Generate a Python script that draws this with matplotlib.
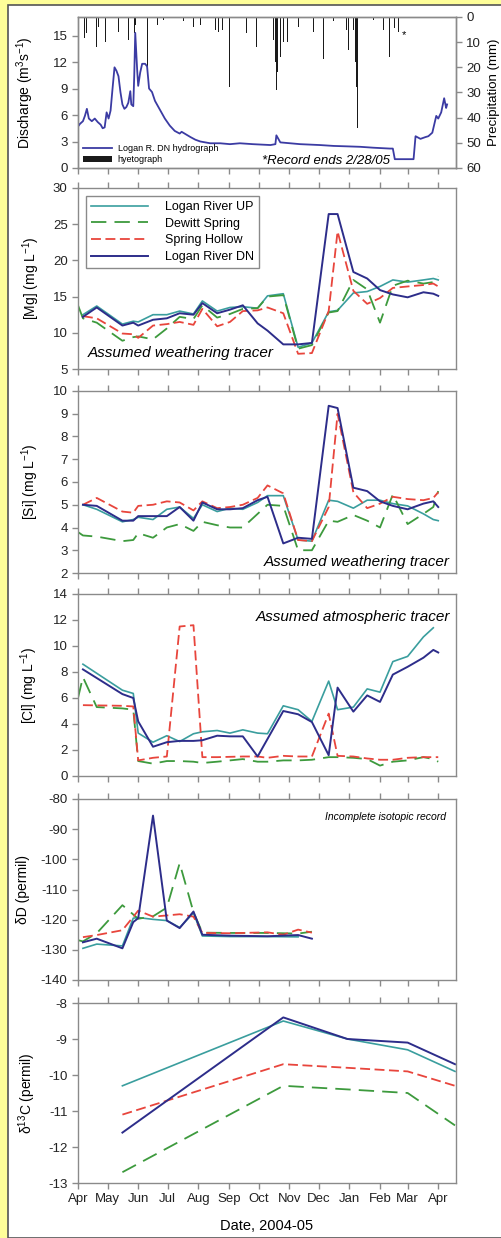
import numpy as np
import pandas as pd
import matplotlib
matplotlib.use('Agg')
import matplotlib.pyplot as plt
import matplotlib.dates as mdates
from matplotlib.patches import Rectangle

plt.rcParams['font.family'] = ['Liberation Sans', 'DejaVu Sans']
plt.rcParams['mathtext.default'] = 'regular'
plt.rcParams['axes.unicode_minus'] = False

nan = np.nan
START = pd.Timestamp('2004-04-01')

# ---- hydrograph (days since 2004-04-01, discharge m3/s) ----
q_days = [0, 2, 5, 7, 9, 11, 14, 17, 20, 23, 25, 27, 29, 31, 33, 35, 37, 39, 41,
          43, 45, 47, 49, 51, 53, 54, 56, 57, 58, 60, 61, 63, 65, 68, 70, 72, 75,
          78, 83, 88, 93, 98, 103, 105, 108, 114, 119, 124, 134, 144, 154, 164,
          177, 195, 200, 201, 205, 215, 225, 245, 259, 273, 286, 299, 316, 319,
          321, 340, 342, 347, 352, 355, 359, 363, 365, 368, 371, 373, 374]
q_vals = [4.7, 5.0, 5.3, 5.9, 6.7, 5.6, 5.3, 5.6, 5.2, 4.9, 4.5, 4.6, 6.3, 5.6, 6.5,
          9.0, 11.4, 11.0, 10.4, 8.6, 7.2, 6.7, 6.9, 7.4, 8.7, 7.2, 7.0, 10.5, 15.3,
          11.0, 9.3, 10.8, 11.8, 11.8, 11.5, 9.0, 8.6, 7.6, 6.6, 5.6, 4.8, 4.2, 3.9,
          4.1, 3.9, 3.5, 3.2, 3.0, 2.8, 2.8, 2.7, 2.8, 2.7, 2.6, 2.7, 3.7, 2.9, 2.8,
          2.7, 2.6, 2.5, 2.45, 2.4, 2.3, 2.2, 2.2, 1.0, 1.0, 3.6, 3.3, 3.5, 3.6, 4.0,
          5.9, 5.6, 6.3, 7.9, 6.8, 7.2]

# ---- hyetograph (days, precipitation mm) ----
p_days = [7, 9, 19, 21, 28, 41, 51, 57, 58, 70, 81, 87, 107, 117, 124, 139, 142,
          146, 154, 171, 181, 198, 200, 201, 202, 205, 208, 212, 223, 239, 249,
          259, 272, 274, 279, 281, 282, 283, 299, 310, 316, 321, 325]
p_vals = [8.5, 6.5, 12, 4, 10, 6, 9, 6.5, 3, 22, 3, 1, 1.5, 4, 3, 5, 6, 5, 28,
          6.5, 12, 9, 18, 29, 22, 16, 10, 10, 4, 6, 16.5, 1.5, 5, 13, 5, 18, 28,
          44, 1, 5, 16, 4.5, 6]

# ---- water chemistry sampling days ----
chem_days = [0, 5, 19, 45, 56, 61, 76, 90, 103, 117, 126, 141, 154, 167, 182, 192,
             208, 223, 237, 254, 263, 279, 293, 306, 319, 334, 350, 360, 365]

mg_up = [nan, 12.5, 13.7, 11.2, 11.6, 11.5, 12.5, 12.5, 13.0, 12.6, 14.4, 13.0, 13.5,
         13.6, 13.4, 15.1, 15.4, 8.0, 8.6, 12.9, 13.1, 15.5, 15.7, 16.4, 17.3, 17.0,
         17.3, 17.5, 17.3]
mg_ds = [13.8, 12.0, 11.4, 8.9, 9.4, 9.5, 9.1, 10.6, 12.2, 11.9, 13.8, 12.1, 12.6,
         13.3, 13.4, 15.0, 15.2, 7.8, 8.3, 12.8, 13.0, 17.3, 16.0, 11.4, 16.5, 17.2,
         16.8, 17.0, 17.8]
mg_sh = [nan, 12.3, 12.0, 9.9, 9.8, 9.3, 11.0, 11.2, 11.5, 11.1, 13.3, 10.9, 11.5,
         13.0, 13.1, 13.5, 12.7, 7.1, 7.2, 13.0, 24.0, 15.8, 14.0, 14.8, 16.2, 16.4,
         16.6, 16.8, 16.4]
mg_dn = [nan, 12.2, 13.5, 11.0, 11.4, 11.0, 11.8, 12.0, 12.7, 12.5, 14.1, 12.7, 13.2,
         13.8, 11.3, 10.3, 8.4, 8.4, 8.6, 26.4, 26.4, 18.4, 17.5, 15.9, 15.3, 14.9,
         15.6, 15.4, 15.1]

si_up = [nan, 5.0, 4.8, 4.25, 4.35, 4.45, 4.35, 4.8, 4.9, 4.4, 5.0, 4.7, 4.85, 4.8,
         5.1, 5.4, 5.4, 3.45, 3.4, 5.2, 5.15, 4.85, 5.2, 5.2, 5.05, 4.95, 4.6, 4.35, 4.3]
si_ds = [3.8, 3.65, 3.6, 3.4, 3.45, 3.75, 3.55, 4.0, 4.15, 3.85, 4.25, 4.1, 4.0, 4.0,
         4.6, 5.0, 4.95, 3.0, 3.0, 4.3, 4.25, 4.55, 4.3, 4.0, 5.45, 4.15, 4.6, 4.9, 5.6]
si_sh = [nan, 5.0, 5.3, 4.7, 4.65, 4.95, 5.0, 5.15, 5.1, 4.75, 5.15, 4.85, 4.9, 5.0,
         5.3, 5.85, 5.5, 3.45, 3.4, 4.9, 9.0, 5.55, 4.85, 5.05, 5.35, 5.25, 5.2, 5.3, 5.55]
si_dn = [nan, 5.0, 4.95, 4.3, 4.3, 4.5, 4.5, 4.5, 4.9, 4.3, 5.1, 4.8, 4.8, 4.85, 5.2,
         5.35, 3.3, 3.55, 3.5, 9.35, 9.25, 5.75, 5.6, 5.15, 4.95, 4.8, 5.05, 5.15, 4.9]

cl_up = [nan, 8.6, nan, 6.6, 6.35, 3.3, 2.6, 3.1, 2.65, 3.25, 3.4, 3.5, 3.3, 3.55,
         3.3, 3.25, 5.4, 5.1, 4.2, 7.3, 5.1, 5.3, 6.7, 6.45, 8.8, 9.2, 10.7, 11.4, nan]
cl_ds = [6.0, 7.6, 5.3, 5.2, 5.1, 1.15, 0.95, 1.15, 1.15, 1.1, 1.0, 1.1, 1.2, 1.3,
         1.1, 1.1, 1.2, 1.2, 1.25, 1.45, 1.45, 1.4, 1.3, 0.8, 1.1, 1.2, 1.45, 1.3, 1.1]
cl_sh = [nan, 5.45, nan, 5.4, 5.35, 1.2, 1.4, 1.5, 11.5, 11.6, 1.45, 1.45, nan, 1.5,
         1.5, 1.4, 1.55, 1.5, 1.5, 4.8, 1.55, 1.5, 1.35, 1.25, 1.25, 1.4, 1.45, 1.45, 1.45]
cl_dn = [nan, 8.2, nan, 6.3, 6.0, 4.2, 2.25, 2.6, 2.7, 2.7, 2.75, 3.1, 3.05, 3.05,
         1.5, nan, 5.0, 4.75, 4.15, 1.6, 6.8, 4.95, 6.2, 5.7, 7.8, 8.4, 9.1, 9.7, 9.5]

# ---- isotopes ----
dd_days = [0, 5, 19, 45, 56, 61, 76, 90, 103, 117, 126, 154, 192, 208, 223, 237]
dd_up = [nan, -129.5, -128.1, -128.7, -119.5, -119.3, -119.9, -120.3, -122.6, -117.8,
         -125.4, -125.6, -125.6, nan, -125.7, nan]
dd_ds = [-126.8, -127.2, -124.5, -115.2, nan, -119.7, -118.9, -116.0, -101.3, -117.5,
         -124.3, -124.4, -124.4, nan, -124.6, -124.0]
dd_sh = [nan, -125.8, -125.1, -123.5, nan, -117.0, -119.0, -118.6, -118.2, -119.0,
         -124.4, -124.5, -124.2, -125.0, -123.3, -124.3]
dd_dn = [nan, -127.5, -126.3, -129.5, -120.8, -119.5, -85.5, -120.3, -122.8, -117.3,
         -125.0, -125.3, -125.5, nan, -125.1, -126.3]

c13_days = [45, 208, 273, 334, 382]
c13_up = [-10.3, -8.5, -9.0, -9.3, -9.9]
c13_ds = [-12.7, -10.3, -10.4, -10.5, -11.4]
c13_sh = [-11.1, -9.7, -9.8, -9.9, -10.3]
c13_dn = [-11.6, -8.4, -9.0, -9.1, -9.7]

sites = ['Logan River UP', 'Dewitt Spring', 'Spring Hollow', 'Logan River DN']
styles = [dict(color='#3a9e9e', lw=1.2),
          dict(color='#3d9a3d', lw=1.3, dashes=(8.5, 4.5)),
          dict(color='#e8453c', lw=1.3, dashes=(5.5, 2.5)),
          dict(color='#2d2d8a', lw=1.4)]


def to_date(days):
    return (START + pd.to_timedelta(np.asarray(days, dtype=float), unit='D')).to_numpy()


def plot_sites(ax, days, series):
    for vals, st, name in zip(series, styles, sites):
        v = np.asarray(vals, dtype=float)
        ok = ~np.isnan(v)
        ax.plot(to_date(np.asarray(days)[ok]), v[ok], label=name, **st)


def style(ax, top=True):
    for s in ax.spines.values():
        s.set_color('#8a8a8a')
        s.set_linewidth(1.0)
    ax.tick_params(direction='out', length=4, width=1, color='#8a8a8a',
                   labelsize=9.5, labelcolor='#222222')
    ax.tick_params(axis='x', top=top, labelbottom=False)
    ax.xaxis.set_major_locator(mdates.MonthLocator())
    ax.xaxis.set_major_formatter(mdates.DateFormatter('%b'))
    ax.set_xlim(START.to_datetime64(), (START + pd.Timedelta(days=383)).to_datetime64())


fig = plt.figure(figsize=(5.02, 12.38), dpi=100, facecolor='#ffff99')
fig.patches.append(Rectangle((8 / 502, 0), 1, 1 - 5 / 1238, transform=fig.transFigure,
                             facecolor='white', edgecolor='#555555', lw=1.2, zorder=-1))

L, W = 78 / 502, 378 / 502


def pos(top, bottom):
    return [L, 1 - bottom / 1238, W, (bottom - top) / 1238]


ax1 = fig.add_axes(pos(17, 168))
ax2 = fig.add_axes(pos(188, 369))
ax3 = fig.add_axes(pos(391, 573))
ax4 = fig.add_axes(pos(594, 776))
ax5 = fig.add_axes(pos(799, 980))
ax6 = fig.add_axes(pos(1003, 1183))

# panel 1: hydrograph + hyetograph
axp = ax1.twinx()
axp.bar(to_date(p_days), p_vals, width=1.0, color='#1a1a1a', label='hyetograph')
axp.set_ylim(60, 0)
axp.set_yticks(range(0, 61, 10))
ax1.plot(to_date(q_days), q_vals, color='#3b3ba3', lw=1.3, label='Logan R. DN hydrograph')
ax1.set_zorder(axp.get_zorder() + 1)
ax1.patch.set_visible(False)
ax1.set_ylim(0, 17.1)
ax1.set_yticks(range(0, 16, 3))
style(ax1, top=False)
style(axp, top=False)
ax1.set_ylabel('Discharge (m$^3$s$^{-1}$)', fontsize=10)
ax1.yaxis.set_label_coords(-0.11, 0.5)
h1, l1 = ax1.get_legend_handles_labels()
h2, l2 = axp.get_legend_handles_labels()
ax1.legend(h1 + h2, l1 + l2, loc='lower left', bbox_to_anchor=(0.0, -0.01),
           frameon=False, fontsize=6.5, handlelength=3.2, handletextpad=0.6,
           labelspacing=0.25, borderaxespad=0.2)
ax1.text(0.825, 0.045, '*Record ends 2/28/05', transform=ax1.transAxes,
         ha='right', va='center', fontsize=9.5, style='italic')
axp.text(to_date([330])[0], 7, '*', ha='center', va='center', fontsize=8)
fig.text(488 / 502, 1 - 92 / 1238, 'Precipitation (mm)', rotation=90,
         ha='left', va='center', fontsize=9.5)

# panel 2: Mg
plot_sites(ax2, chem_days, [mg_up, mg_ds, mg_sh, mg_dn])
ax2.set_ylim(5, 30)
ax2.set_yticks(range(5, 31, 5))
style(ax2)
ax2.set_ylabel('[Mg] (mg L$^{-1}$)', fontsize=10)
ax2.yaxis.set_label_coords(-0.095, 0.5)
leg = ax2.legend(loc='upper left', bbox_to_anchor=(0.021, 0.956), borderaxespad=0,
                 fontsize=9, handlelength=4.6, handletextpad=1.3, labelspacing=0.38,
                 fancybox=False, framealpha=1, edgecolor='#8a8a8a')
leg.get_frame().set_linewidth(1.0)
ax2.text(0.026, 0.088, 'Assumed weathering tracer', transform=ax2.transAxes,
         ha='left', va='center', fontsize=11, style='italic')

# panel 3: Si
plot_sites(ax3, chem_days, [si_up, si_ds, si_sh, si_dn])
ax3.set_ylim(2, 10)
ax3.set_yticks(range(2, 11))
style(ax3)
ax3.set_ylabel('[Si] (mg L$^{-1}$)', fontsize=10)
ax3.yaxis.set_label_coords(-0.098, 0.5)
ax3.text(0.984, 0.06, 'Assumed weathering tracer', transform=ax3.transAxes,
         ha='right', va='center', fontsize=11, style='italic')

# panel 4: Cl
plot_sites(ax4, chem_days, [cl_up, cl_ds, cl_sh, cl_dn])
ax4.set_ylim(0, 14)
ax4.set_yticks(range(0, 15, 2))
style(ax4)
ax4.set_ylabel('[Cl] (mg L$^{-1}$)', fontsize=10)
ax4.yaxis.set_label_coords(-0.1, 0.5)
ax4.text(0.984, 0.874, 'Assumed atmospheric tracer', transform=ax4.transAxes,
         ha='right', va='center', fontsize=11, style='italic')

# panel 5: dD
plot_sites(ax5, dd_days, [dd_up, dd_ds, dd_sh, dd_dn])
ax5.set_ylim(-140, -80)
ax5.set_yticks(range(-140, -79, 10))
style(ax5)
ax5.set_ylabel('δD (permil)', fontsize=10)
ax5.yaxis.set_label_coords(-0.127, 0.5)
ax5.text(0.974, 0.9, 'Incomplete isotopic record', transform=ax5.transAxes,
         ha='right', va='center', fontsize=7.5, style='italic')

# panel 6: d13C
plot_sites(ax6, c13_days, [c13_up, c13_ds, c13_sh, c13_dn])
ax6.set_ylim(-13, -8)
ax6.set_yticks(range(-13, -7))
style(ax6)
ax6.tick_params(axis='x', labelbottom=True, labelsize=9.5)
ax6.set_ylabel('δ$^{13}$C (permil)', fontsize=10)
ax6.yaxis.set_label_coords(-0.106, 0.5)
ax6.set_xlabel('Date, 2004-05', fontsize=10.5, labelpad=10)

fig.savefig('out.png', dpi=100, facecolor=fig.get_facecolor())
